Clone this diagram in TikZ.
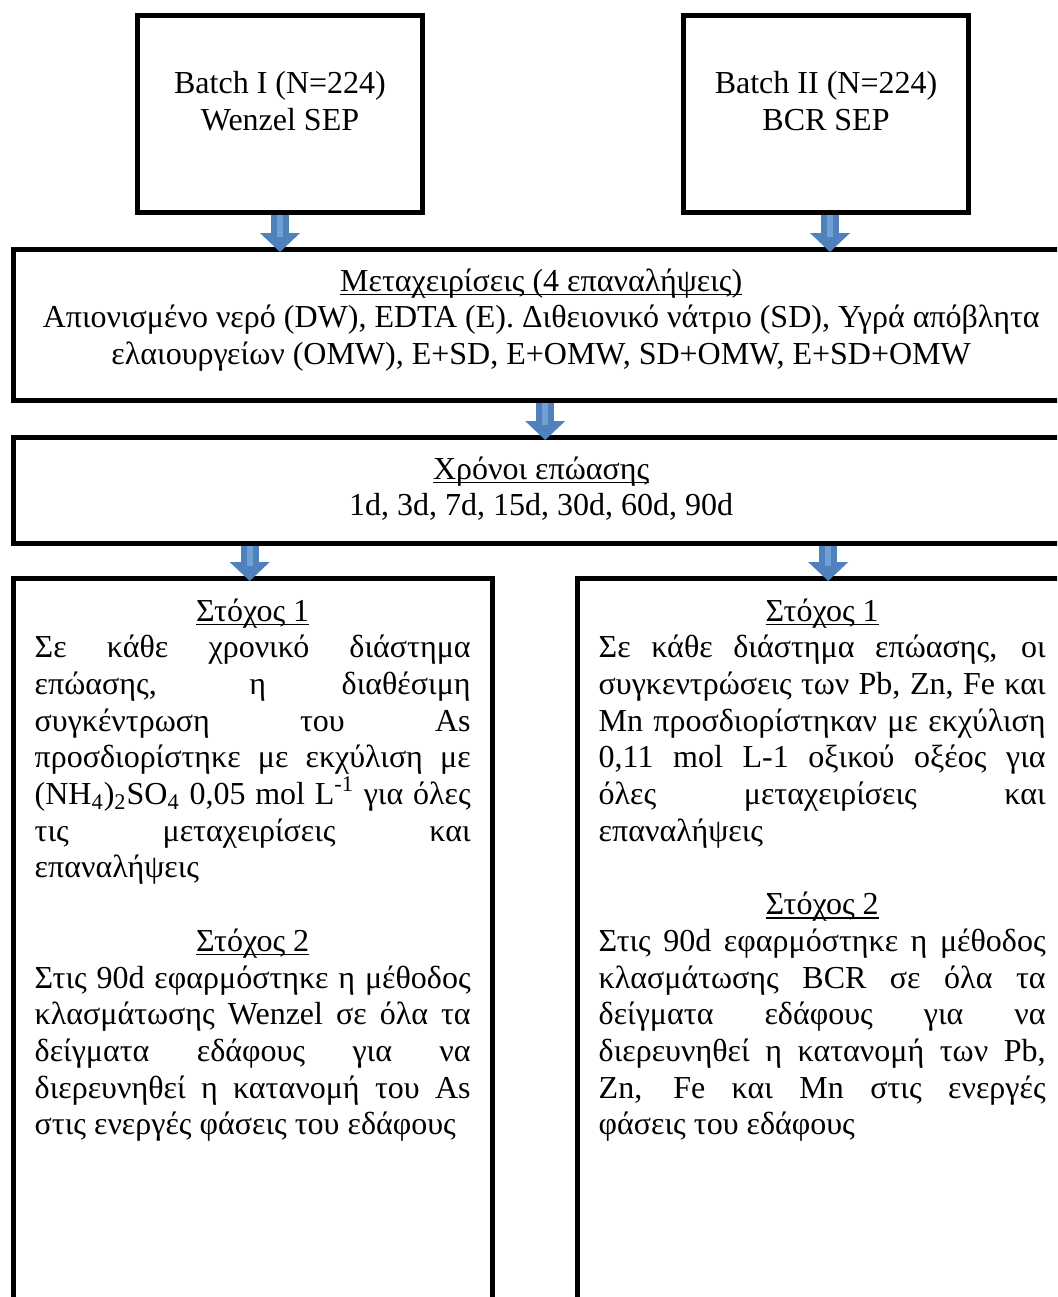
\documentclass[tikz,border=0pt]{standalone}
\usepackage{fontspec}
\setmainfont{Liberation Serif}
\usepackage{tikz}
\usetikzlibrary{arrows.meta, positioning}
\definecolor{arrowblue}{RGB}{79,129,189}
\definecolor{arrowlight}{RGB}{112,160,214}
\newsavebox\undlbox
\newcommand\undl[1]{\sbox\undlbox{#1}\rlap{\rule[-2pt]{\wd\undlbox}{0.7pt}}\usebox\undlbox}
\newcommand\jline[1]{\makebox[\linewidth][s]{#1}\par}
\newcommand\cenline[1]{\makebox[\linewidth][c]{#1}\par}

\begin{document}
\begin{tikzpicture}[
  x=0.5pt, y=-0.5pt,
  font=\fontsize{16}{18.35}\selectfont,
  box/.style={rectangle, draw=black, line width=2.5pt, inner sep=0pt},
  aim/.style={rectangle, draw=black, line width=2.5pt, inner xsep=10.75pt, inner ysep=0pt},
  arrow/.style={line width=9pt, draw=arrowblue, -{Triangle[width=19.5pt, length=9.5pt]}, shorten >=-2.5pt,
                postaction={draw=arrowlight, line width=3pt, -, shorten >=5pt}}
]
\useasboundingbox (0,0) rectangle (1057,1297);
\clip (0,0) rectangle (1057,1297);

\node[box] (wenzel) at (280,114)
  {\parbox[c][98.5pt][t]{142.5pt}{\centering\rule{0pt}{39pt}Batch I (N=224)\\Wenzel SEP}};
\node[box, right=128pt of wenzel] (bcr)
  {\parbox[c][98.5pt][t]{142.5pt}{\centering\rule{0pt}{39pt}Batch II (N=224)\\BCR SEP}};
\node[box, below=16pt of wenzel, xshift=130.6pt] (treat)
  {\parbox[c][75.5pt][t]{528pt}{\centering\rule{0pt}{20.75pt}\undl{Μεταχειρίσεις (4 επαναλήψεις)}\\
   Απιονισμένο νερό (DW), EDTA (E). Διθειονικό νάτριο (SD), Υγρά απόβλητα\\
   ελαιουργείων (OMW), E+SD, E+OMW, SD+OMW, E+SD+OMW}};
\node[box, below=16pt of treat] (incub)
  {\parbox[c][53pt][t]{528pt}{\centering\rule{0pt}{20.75pt}\undl{Χρόνοι επώασης}\\
   1d, 3d, 7d, 15d, 30d, 60d, 90d}};

% aims of the two batches
\node[aim, below=15pt of incub.south west, anchor=north west] (goalw)
  {\parbox[c][370pt][t]{218pt}{%
   \cenline{\rule{0pt}{21.25pt}\undl{Στόχος 1}}
   \jline{Σε κάθε χρονικό διάστημα}
   \jline{επώασης, η διαθέσιμη}
   \jline{συγκέντρωση του As}
   \jline{προσδιορίστηκε με εκχύλιση με}
   \jline{(NH\textsubscript{4})\textsubscript{2}SO\textsubscript{4} 0,05 mol L\textsuperscript{-1} για όλες}
   \jline{τις μεταχειρίσεις και}
   επαναλήψεις\par
   \mbox{}\par
   \cenline{\undl{Στόχος 2}}
   \jline{Στις 90d εφαρμόστηκε η μέθοδος}
   \jline{κλασμάτωσης Wenzel σε όλα τα}
   \jline{δείγματα εδάφους για να}
   \jline{διερευνηθεί η κατανομή του As}
   στις ενεργές φάσεις του εδάφους\par}};
\node[aim, right=40pt of goalw] (goalb)
  {\parbox[c][370pt][t]{223.5pt}{%
   \cenline{\rule{0pt}{21.25pt}\undl{Στόχος 1}}
   \jline{Σε κάθε διάστημα επώασης, οι}
   \jline{συγκεντρώσεις των Pb, Zn, Fe και}
   \jline{Mn προσδιορίστηκαν με εκχύλιση}
   \jline{0,11 mol L-1 οξικού οξέος για}
   \jline{όλες μεταχειρίσεις και}
   επαναλήψεις\par
   \mbox{}\par
   \cenline{\undl{Στόχος 2}}
   \jline{Στις 90d εφαρμόστηκε η μέθοδος}
   \jline{κλασμάτωσης BCR σε όλα τα}
   \jline{δείγματα εδάφους για να}
   \jline{διερευνηθεί η κατανομή των Pb,}
   \jline{Zn, Fe και Mn στις ενεργές}
   φάσεις του εδάφους\par}};

\draw[arrow] (wenzel.south) -- (wenzel.south |- treat.north);
\draw[arrow] ([xshift=2pt]bcr.south) -- ([xshift=2pt]bcr.south |- treat.north);
\draw[arrow] ([xshift=2pt]treat.south) -- ([xshift=2pt]incub.north);
\draw[arrow] ([xshift=-1.5pt]incub.south -| goalw.north) -- ([xshift=-1.5pt]goalw.north);
\draw[arrow] ([xshift=3pt]incub.south -| goalb.north) -- ([xshift=3pt]goalb.north);
\end{tikzpicture}
\end{document}
